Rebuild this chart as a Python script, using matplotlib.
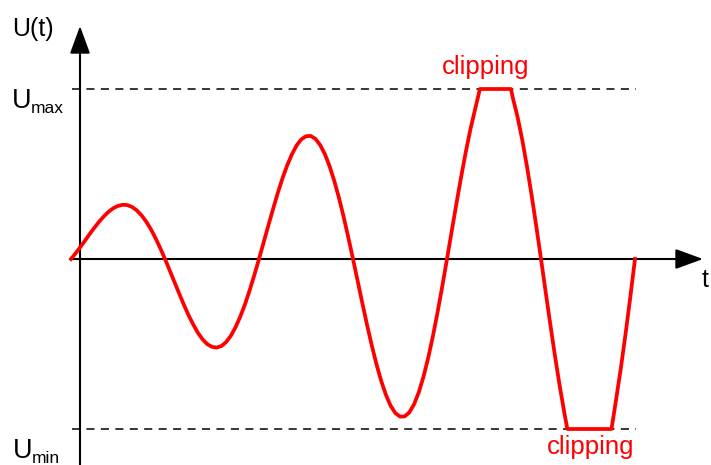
import matplotlib
matplotlib.use("Agg")
import matplotlib.pyplot as plt

plt.rcParams['font.family'] = ['Liberation Sans', 'DejaVu Sans']
plt.rcParams['lines.scale_dashes'] = False

# ---- data (time in half-periods, U relative to U_max) ----
t = [0.0, 0.05, 0.1, 0.15, 0.2, 0.25, 0.3, 0.35, 0.4, 0.45,
     0.5, 0.55, 0.6, 0.65, 0.7, 0.75, 0.8, 0.85, 0.9, 0.95,
     1.0, 1.05, 1.1, 1.15, 1.2, 1.25, 1.3, 1.35, 1.4, 1.45,
     1.5, 1.55, 1.6, 1.65, 1.7, 1.75, 1.8, 1.85, 1.9, 1.95,
     2.0, 2.05, 2.1, 2.15, 2.2, 2.25, 2.3, 2.35, 2.4, 2.45,
     2.5, 2.55, 2.6, 2.65, 2.7, 2.75, 2.8, 2.85, 2.9, 2.95,
     3.0, 3.05, 3.1, 3.15, 3.2, 3.25, 3.3, 3.35, 3.4, 3.45,
     3.5, 3.55, 3.6, 3.65, 3.7, 3.75, 3.8, 3.85, 3.9, 3.95,
     4.0, 4.05, 4.1, 4.15, 4.2, 4.25, 4.3, 4.35,
     4.68, 4.7, 4.75, 4.8, 4.85, 4.9, 4.95,
     5.0, 5.05, 5.1, 5.15, 5.2, 5.25, 5.28,
     5.75, 5.8, 5.85, 5.9, 5.95, 6.0]
u = [0.0, 0.034, 0.071, 0.109, 0.148, 0.185, 0.220, 0.251, 0.278, 0.299,
     0.312, 0.319, 0.317, 0.306, 0.286, 0.257, 0.220, 0.175, 0.122, 0.063,
     0.0, -0.067, -0.135, -0.202, -0.268, -0.330, -0.385, -0.434, -0.473, -0.501,
     -0.517, -0.521, -0.512, -0.489, -0.452, -0.402, -0.340, -0.268, -0.185, -0.095,
     0.0, 0.099, 0.198, 0.295, 0.389, 0.475, 0.551, 0.616, 0.668, 0.704,
     0.722, 0.724, 0.707, 0.671, 0.618, 0.547, 0.461, 0.361, 0.249, 0.127,
     0.0, -0.131, -0.261, -0.389, -0.509, -0.620, -0.717, -0.799, -0.863, -0.906,
     -0.927, -0.926, -0.902, -0.854, -0.784, -0.692, -0.582, -0.454, -0.312, -0.160,
     0.0, 0.163, 0.325, 0.482, 0.630, 0.765, 0.883, 1.0,
     1.0, 0.949, 0.837, 0.702, 0.547, 0.375, 0.192,
     0.0, -0.195, -0.388, -0.575, -0.750, -0.910, -1.0,
     -1.0, -0.823, -0.640, -0.439, -0.224, 0.0]
u_max = 1.0
u_min = -1.0
clip_labels = ["clipping", "clipping"]

# ---- layout (pixel mapping) ----
W, H = 711, 465
X0, XS = 71.0, 94.0     # pixel x of t=0, pixels per unit t
Y0, YS = 259.0, 170.0   # pixel y of U=0, pixels per unit U

def px(x, y):
    return ((x - X0) / XS, (Y0 - y) / YS)

fig = plt.figure(figsize=(W / 100, H / 100), dpi=100)
ax = fig.add_axes([0, 0, 1, 1])
ax.set_xlim((0 - X0) / XS, (W - X0) / XS)
ax.set_ylim((Y0 - H) / YS, (Y0 - 0) / YS)
ax.axis('off')

# dashed limit lines
xd0 = px(72, 0)[0]
xd1 = px(636, 0)[0]
for lvl in (u_max, u_min):
    ax.plot([xd0, xd1], [lvl, lvl], color='black', lw=1.1,
            dashes=(5.8, 4.6), dash_capstyle='butt', zorder=2)

# axes with arrows
arr = dict(arrowstyle='-|>,head_length=17,head_width=6.2', mutation_scale=1,
           color='black', lw=1.5, shrinkA=0, shrinkB=0)
ax.annotate('', xy=px(80, 26), xytext=px(80, 470), arrowprops=arr, zorder=3)
ax.annotate('', xy=px(703, 259), xytext=px(70, 259), arrowprops=arr, zorder=3)

# signal
ax.plot(t, u, color='#ff0000', lw=2.7, solid_joinstyle='round', zorder=4)

# labels
ax.text(*px(12, 36), 'U(t)', fontsize=18, ha='left', va='baseline')
ax.text(*px(702, 287), 't', fontsize=18, ha='left', va='baseline')
ax.text(*px(12, 108), 'U', fontsize=19.5, ha='left', va='baseline')
ax.text(*px(31, 113), 'max', fontsize=12.5, ha='left', va='baseline')
ax.text(*px(13, 458), 'U', fontsize=19.5, ha='left', va='baseline')
ax.text(*px(32, 463), 'min', fontsize=12.5, ha='left', va='baseline')
ax.text(*px(486, 74), clip_labels[0], fontsize=18.5, color='#ff0000', ha='center', va='baseline')
ax.text(*px(591, 454), clip_labels[1], fontsize=18.5, color='#ff0000', ha='center', va='baseline')

fig.savefig('out.png', dpi=100)
